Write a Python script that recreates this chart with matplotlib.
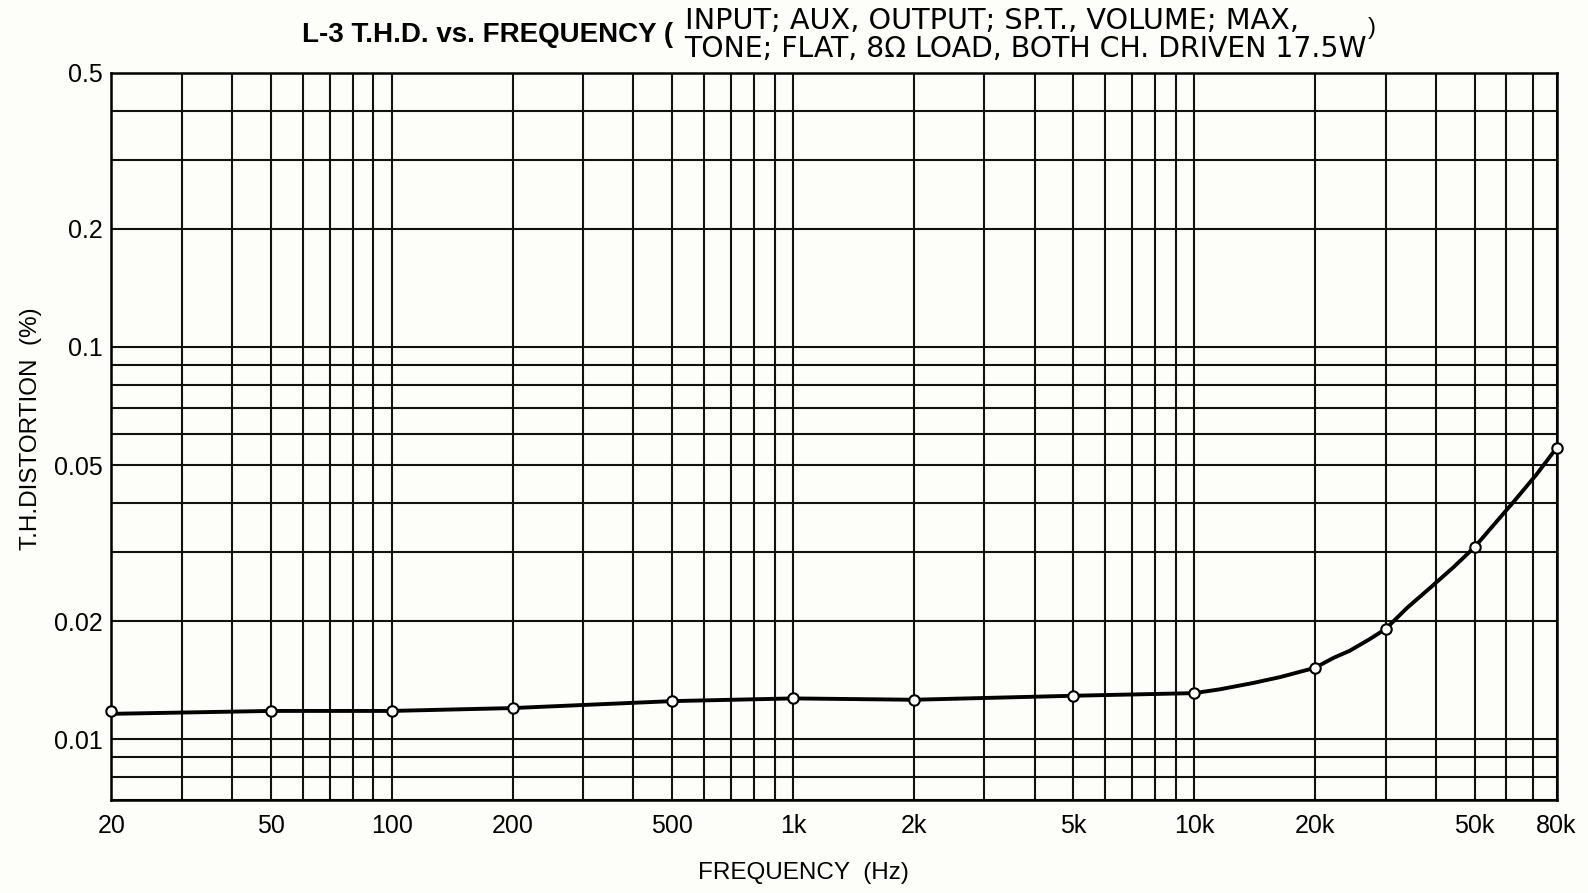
import matplotlib.pyplot as plt

plt.rcParams['font.family'] = ['Liberation Sans', 'DejaVu Sans']

# measured points (markers)
freq = [20, 50, 100, 200, 500, 1000, 2000, 5000, 10000, 20000, 30000, 50000, 80000]
thd = [0.0118, 0.0118, 0.0118, 0.0120, 0.0125, 0.0127, 0.0126, 0.0129, 0.0131,
       0.0152, 0.0191, 0.0309, 0.0553]

# readings of the drawn curve, denser where it bends
curve_f = [20, 50, 100, 200, 500, 1000, 2000, 5000, 10000, 11600, 14000, 16400,
           20000, 22200, 24400, 27400, 30000, 33900, 38700, 44200, 50000, 62400,
           71400, 80000]
curve_v = [0.0116, 0.0118, 0.0118, 0.0120, 0.0125, 0.0127, 0.0126, 0.0129, 0.0131,
           0.0134, 0.0139, 0.0144, 0.0152, 0.0161, 0.0168, 0.0180, 0.0191, 0.0216,
           0.0243, 0.0274, 0.0309, 0.0402, 0.0474, 0.0553]

xticks = [20, 50, 100, 200, 500, 1000, 2000, 5000, 10000, 20000, 50000, 80000]
xlabels = ['20', '50', '100', '200', '500', '1k', '2k', '5k', '10k', '20k', '50k', '80k']
yticks = [0.01, 0.02, 0.05, 0.1, 0.2, 0.5]
ylabels = ['0.01', '0.02', '0.05', '0.1', '0.2', '0.5']

W, H = 1568, 882  # layout units
fig = plt.figure(figsize=(15.88, 8.93), dpi=100)
fig.patch.set_facecolor('#fdfdfa')
ax = fig.add_axes([110 / W, 1 - 790 / H, 1427 / W, 718 / H])
ax.set_facecolor('#fdfdfa')

ax.set_xscale('log')
ax.set_yscale('log')
ax.set_xlim(20, 80000)
ax.set_ylim(0.007, 0.5)

# grid at every 1..9 step of each decade
xgrid = [m * 10 ** e for e in range(1, 5) for m in range(1, 10)]
xgrid = [v for v in xgrid if 20 <= v <= 80000]
ygrid = [m * 10 ** e for e in range(-3, 0) for m in range(1, 10)]
ygrid = [v for v in ygrid if 0.007 <= v <= 0.5]
for v in xgrid:
    ax.axvline(v, color='#111111', lw=1.5, zorder=1)
for v in ygrid:
    ax.axhline(v, color='#111111', lw=1.5, zorder=1)

ax.plot(curve_f, curve_v, color='black', lw=2.8, zorder=3,
        solid_capstyle='round', solid_joinstyle='round')
ax.plot(freq, thd, 'o', ms=7.5, mfc='white', mec='black', mew=1.5, zorder=4, clip_on=False)

ax.set_xticks(xticks)
ax.set_xticklabels(xlabels)
ax.set_yticks(yticks)
ax.set_yticklabels(ylabels)
ax.minorticks_off()
ax.tick_params(axis='both', length=0, labelsize=18)
ax.tick_params(axis='x', pad=10)
ax.tick_params(axis='y', pad=6)
for s in ax.spines.values():
    s.set_linewidth(1.8)

ax.set_xlabel('FREQUENCY  (Hz)', fontsize=17.5)
ax.set_ylabel('T.H.DISTORTION  (%)', fontsize=17.5)
ax.xaxis.set_label_coords(0.479, -0.086)
ax.yaxis.set_label_coords(-0.048, 0.51)

fig.text(298 / W, 1 - 35 / H, 'L-3 T.H.D. vs. FREQUENCY (', fontsize=20, fontweight='bold',
         ha='left', va='center')
fig.text(676 / W, 1 - 21 / H, 'INPUT; AUX, OUTPUT; SP.T., VOLUME; MAX,', fontsize=20.7,
         family='DejaVu Sans', ha='left', va='center')
fig.text(676 / W, 1 - 48 / H, 'TONE; FLAT, 8Ω LOAD, BOTH CH. DRIVEN 17.5W', fontsize=20.4,
         family='DejaVu Sans', ha='left', va='center')
fig.text(1351 / W, 1 - 28 / H, ')', fontsize=17, ha='left', va='center')

fig.savefig('out.png', dpi=100, facecolor=fig.get_facecolor())
